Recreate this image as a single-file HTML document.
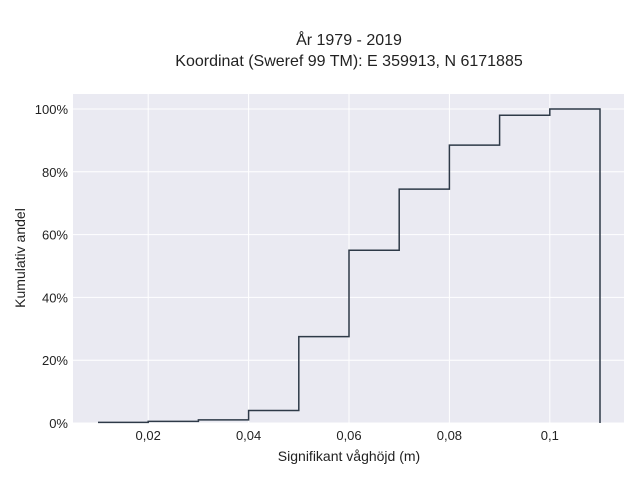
<!DOCTYPE html>
<html><head><meta charset="utf-8"><style>
body{margin:0;background:#fff;font-family:"Liberation Sans",sans-serif;}
svg text{font-family:"Liberation Sans",sans-serif;fill:#222;}
</style></head><body>
<svg width="640" height="480">
<text x="349" y="45" text-anchor="middle" font-size="16">År 1979 - 2019</text>
<text x="349" y="66" text-anchor="middle" font-size="16">Koordinat (Sweref 99 TM): E 359913, N 6171885</text>
<rect x="73" y="94" width="551" height="329" fill="#eaeaf2"/>
<g id="grid"></g>
<path id="step" fill="none" stroke="#2e3a48" stroke-width="1.5"/>
<g id="ticks"></g>
<text x="349" y="461" text-anchor="middle" font-size="14">Signifikant våghöjd (m)</text>
<text transform="translate(25,258) rotate(-90)" text-anchor="middle" font-size="14">Kumulativ andel</text>
</svg>
<script>
const binEdges=[0.01,0.02,0.03,0.04,0.05,0.06,0.07,0.08,0.09,0.10,0.11];
const cumValues=[0.2,0.5,1,4,27.5,55,74.5,88.5,98,100];
const xTicks=[0.02,0.04,0.06,0.08,0.1];
const xTickLabels=["0,02","0,04","0,06","0,08","0,1"];
const yTicks=[0,20,40,60,80,100];
const xs=v=>98+(v-0.01)*5020;
const ys=v=>423-v*3.14;
const NS="http://www.w3.org/2000/svg";
const g=document.getElementById('grid'),t=document.getElementById('ticks');
xTicks.forEach((v,i)=>{
 const l=document.createElementNS(NS,'line');
 l.setAttribute('x1',xs(v));l.setAttribute('x2',xs(v));l.setAttribute('y1',94);l.setAttribute('y2',423);
 l.setAttribute('stroke','#fff');
 
 
 g.appendChild(l);
 const tx=document.createElementNS(NS,'text');
 tx.setAttribute('x',xs(v));tx.setAttribute('y',440);tx.setAttribute('text-anchor','middle');tx.setAttribute('font-size','13');
 tx.textContent=xTickLabels[i];
 
 
 t.appendChild(tx);
});
yTicks.forEach(v=>{
 const l=document.createElementNS(NS,'line');
 l.setAttribute('x1',73);l.setAttribute('x2',624);l.setAttribute('y1',ys(v));l.setAttribute('y2',ys(v));
 l.setAttribute('stroke','#fff');
 
 
 g.appendChild(l);
 const tx=document.createElementNS(NS,'text');
 tx.setAttribute('x',68);tx.setAttribute('y',ys(v)+5);tx.setAttribute('text-anchor','end');tx.setAttribute('font-size','13');
 tx.textContent=v+'%';
 
 
 t.appendChild(tx);
});
let d='M'+xs(binEdges[0])+','+ys(cumValues[0]);
cumValues.forEach((v,i)=>{
 if(i>0)d+=' L'+xs(binEdges[i])+','+ys(v);
 d+=' L'+xs(binEdges[i+1])+','+ys(v);
});
d+=' L'+xs(binEdges[binEdges.length-1])+','+ys(0);
document.getElementById('step').setAttribute('d',d);
</script>
</body></html>
